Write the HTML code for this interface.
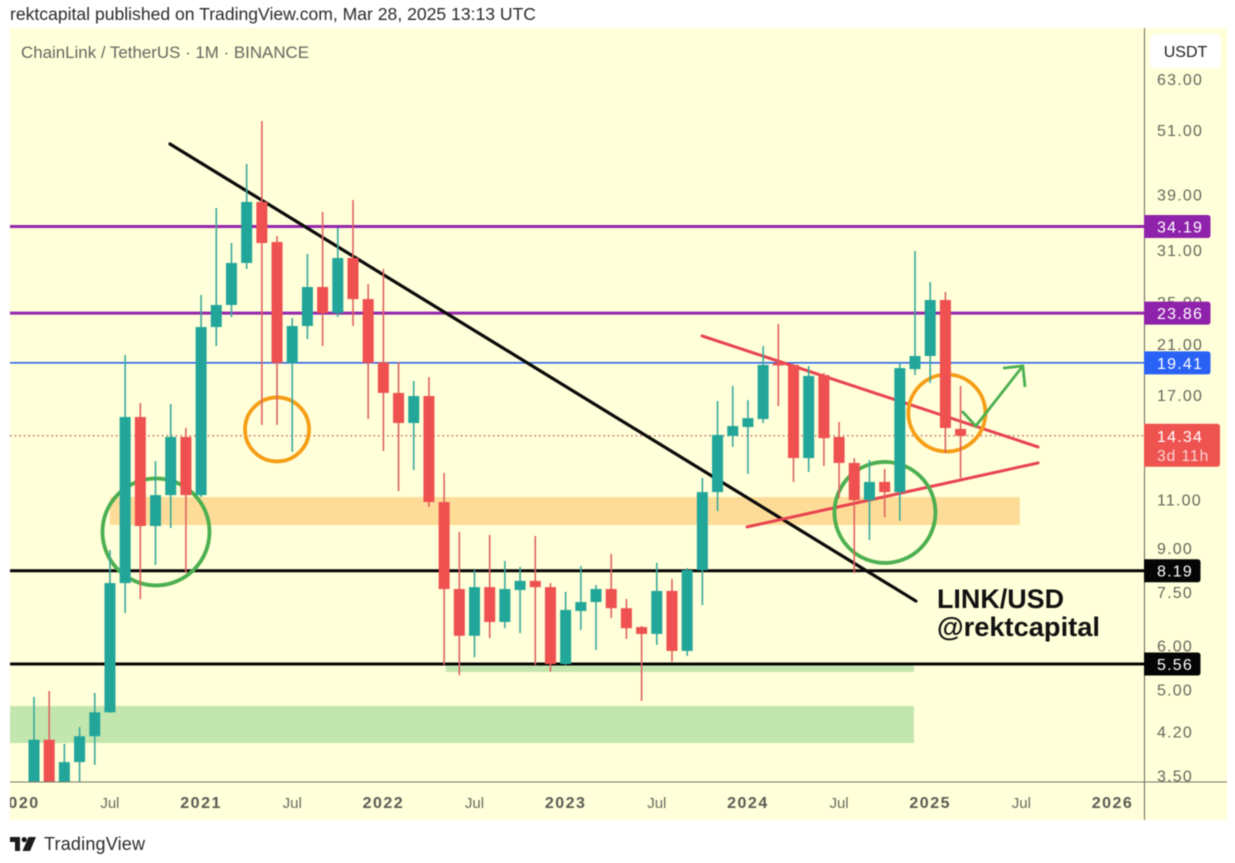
<!DOCTYPE html>
<html lang="en">
<head>
<meta charset="utf-8">
<title>LINK/USD chart</title>
<style>
html,body{margin:0;padding:0;background:#fff;width:1235px;height:863px;overflow:hidden}
svg{display:block;filter:blur(0.4px)}
text{font-family:"Liberation Sans",Arial,sans-serif}
</style>
</head>
<body>
<svg id="chart" xmlns="http://www.w3.org/2000/svg" width="1235" height="863" viewBox="0 0 1235 863">
  <defs>
    <clipPath id="plot-clip"><rect x="10" y="28" width="1134" height="754"></rect></clipPath>
    <clipPath id="time-clip"><rect x="10" y="782" width="1134" height="38"></rect></clipPath>
  </defs>
  <text x="10" y="20" font-size="17.4" fill="#2b2b2b" textLength="526" lengthAdjust="spacingAndGlyphs">rektcapital published on TradingView.com, Mar 28, 2025 13:13 UTC</text>
  <rect x="10" y="28" width="1217" height="792" fill="#ffffd9"></rect>
  <g id="zones" clip-path="url(#plot-clip)"></g>
  <g id="levels" clip-path="url(#plot-clip)"></g>
  <g id="drawings" clip-path="url(#plot-clip)"></g>
  <g id="candles" clip-path="url(#plot-clip)"></g>
  <text x="21" y="58" font-size="17" fill="#666660" textLength="288" lengthAdjust="spacingAndGlyphs">ChainLink / TetherUS · 1M · BINANCE</text>
  <text x="937" y="608" font-size="27" font-weight="700" fill="#111" textLength="127" lengthAdjust="spacingAndGlyphs">LINK/USD</text>
  <text x="937" y="636" font-size="27" font-weight="700" fill="#111" textLength="163" lengthAdjust="spacingAndGlyphs">@rektcapital</text>
  <line x1="10" y1="782" x2="1227" y2="782" stroke="#77776c" stroke-width="1"></line>
  <line x1="1144.5" y1="28" x2="1144.5" y2="820" stroke="#66665c" stroke-width="1"></line>
  <g id="time-ticks" clip-path="url(#time-clip)"></g>
  <g id="price-ticks"></g>
  <g id="price-tags"></g>
  <g>
    <rect x="1150" y="34" width="71" height="34" rx="5" fill="#ffffff"></rect>
    <text x="1185.5" y="57" font-size="16" fill="#222" text-anchor="middle">USDT</text>
  </g>
  <g>
    <path d="M10 837H20V851H15V842H10Z" fill="#1a1a1a"></path>
    <circle cx="24.2" cy="839.6" r="2.6" fill="#1a1a1a"></circle>
    <path d="M28.5 837H36L30 851H22.5Z" fill="#1a1a1a"></path>
    <text x="44" y="850" font-size="18" fill="#2b2b2b" textLength="101">TradingView</text>
  </g>
</svg>
<script>
// ---- data ----
const months = ['2020-02','2020-03','2020-04','2020-05','2020-06','2020-07','2020-08','2020-09','2020-10','2020-11','2020-12','2021-01','2021-02','2021-03','2021-04','2021-05','2021-06','2021-07','2021-08','2021-09','2021-10','2021-11','2021-12','2022-01','2022-02','2022-03','2022-04','2022-05','2022-06','2022-07','2022-08','2022-09','2022-10','2022-11','2022-12','2023-01','2023-02','2023-03','2023-04','2023-05','2023-06','2023-07','2023-08','2023-09','2023-10','2023-11','2023-12','2024-01','2024-02','2024-03','2024-04','2024-05','2024-06','2024-07','2024-08','2024-09','2024-10','2024-11','2024-12','2025-01','2025-02','2025-03'];
const opens  = [3.03,4.06,3.03,3.70,4.12,4.55,7.78,15.50,9.86,11.21,14.27,11.21,22.52,24.68,29.38,37.85,32.05,19.40,22.62,26.59,23.87,29.99,25.29,19.44,17.13,15.12,16.91,10.89,7.59,6.25,7.65,6.62,7.56,7.85,7.65,5.56,6.93,7.19,7.59,7.01,6.48,6.30,7.53,5.87,8.21,11.35,14.33,14.87,15.37,19.40,19.24,13.07,18.45,14.27,12.81,10.98,11.84,11.35,18.91,19.97,25.19,14.75];
const highs  = [4.85,4.97,3.99,4.28,4.93,8.92,20.05,16.43,12.91,16.36,14.81,25.72,36.91,31.92,44.31,52.97,32.86,23.38,30.50,36.31,33.97,38.16,26.93,28.65,19.48,18.00,18.30,12.29,9.62,8.21,9.50,8.53,8.32,9.46,7.78,7.50,8.35,7.72,8.78,7.28,6.51,8.46,7.91,8.28,12.03,16.57,17.63,16.63,20.81,22.81,19.32,19.16,18.61,15.18,13.07,12.97,12.49,19.40,30.88,27.15,26.05,17.63];
const lows   = [2.79,2.80,2.90,3.30,3.66,4.54,6.87,7.28,8.39,9.78,8.11,11.12,20.81,23.48,28.65,15.00,15.00,13.41,21.42,20.81,23.48,22.62,15.37,13.46,11.40,12.44,10.67,5.54,5.31,5.72,6.19,6.45,6.32,5.54,5.38,5.54,6.40,5.89,6.73,6.17,4.77,6.02,5.61,5.75,7.10,10.49,13.69,12.24,15.12,16.22,11.84,12.34,12.65,11.07,8.11,9.30,10.23,10.07,18.45,17.85,13.35,12.03];
const closes = [4.06,3.03,3.70,4.12,4.55,7.78,15.50,9.86,11.21,14.27,11.21,22.52,24.68,29.38,37.85,31.92,19.40,22.62,26.59,23.87,29.99,25.29,19.40,17.13,15.12,16.91,10.89,7.59,6.25,7.65,6.62,7.59,7.85,7.65,5.56,6.96,7.19,7.59,7.01,6.45,6.30,7.53,5.87,8.21,11.35,14.39,14.93,15.43,19.24,19.20,13.07,18.38,14.20,12.81,10.98,11.84,11.35,18.99,19.97,25.19,14.81,14.34];

const priceTicks = [63,51,39,31,25,21,17,11,9,7.5,6,5,4.2,3.5];
const yearTicks = ['2020-01','2021-01','2022-01','2023-01','2024-01','2025-01','2026-01'];
const midYearTicks = ['2020-07','2021-07','2022-07','2023-07','2024-07','2025-07'];

const purpleLevels = [34.19,23.86];
const blueLevels = [19.41];
const blackLevels = [8.19,5.56];
const lastPrice = 14.34;
const countdown = '3d 11h';

// zones: month-index start/end and price top/bottom
const zoneStarts = [5.0,27.12,-1.6];
const zoneEnds = [64.9,57.93,57.93];
const zoneTops = [11.12,5.56,4.67];
const zoneBottoms = [9.90,5.38,4.005];

// trend lines in month-index / price units
const fallingTrendMonths = [8.95,58.06];
const fallingTrendPrices = [48.15,7.22];
const wedgeUpperMonths = [43.98,66.1];
const wedgeUpperPrices = [21.70,13.69];
const wedgeLowerMonths = [46.94,66.1];
const wedgeLowerPrices = [9.82,12.81];
const greenCircleMonths = [8.03,56.02];
const greenCirclePrices = [9.62,10.43];
const orangeCircleMonths = [16.0,60.1];
const orangeCirclePrices = [14.72,15.76];
const arrowMonths = [61.09,62.0,65.1];
const arrowPrices = [15.89,14.93,19.16];
const arrowHeadMonths = [63.8,65.1,65.24];
const arrowHeadPrices = [18.99,19.16,17.56];

// ---- axis functions ----
const SVGNS = 'http://www.w3.org/2000/svg';
function monthIndex(key){
  const a = key.split('-');
  return (Number(a[0]) - 2020) * 12 + Number(a[1]) - 2;
}
function xAt(i){ return 34 + 15.19 * i; }
function yAt(p){ return 664 - 240.9 * Math.log(p / 5.56); }
function make(tag, attrs, parent, txt){
  const el = document.createElementNS(SVGNS, tag);
  for (const k in attrs) el.setAttribute(k, attrs[k]);
  if (txt !== undefined) el.textContent = txt;
  parent.appendChild(el);
  return el;
}
const zonesG = document.getElementById('zones');
const levelsG = document.getElementById('levels');
const drawG = document.getElementById('drawings');
const candlesG = document.getElementById('candles');
const timeG = document.getElementById('time-ticks');
const priceG = document.getElementById('price-ticks');
const tagsG = document.getElementById('price-tags');

// ---- zones ----
zoneStarts.forEach(function(s, i){
  const x1 = xAt(s), x2 = xAt(zoneEnds[i]), y1 = yAt(zoneTops[i]), y2 = yAt(zoneBottoms[i]);
  const el = make('rect', {x:x1, y:y1, width:x2-x1, height:y2-y1, fill: i === 0 ? '#fddc98' : '#c3e6ae'}, zonesG);
  
  
});

// ---- horizontal levels ----
function level(price, color, width, name){
  const el = make('line', {x1:10, x2:1144, y1:yAt(price), y2:yAt(price), stroke:color, 'stroke-width':width}, levelsG);
  
  
}
purpleLevels.forEach(function(p){ level(p, '#9525ac', 3, 'purple-level-line'); });
blueLevels.forEach(function(p){ level(p, '#2f66f0', 1.7, 'blue-level-line'); });
blackLevels.forEach(function(p){ level(p, '#050505', 3, 'black-level-line'); });
const lastLine = make('line', {x1:10, x2:1144, y1:yAt(lastPrice), y2:yAt(lastPrice), stroke:'#b8554f', 'stroke-width':1.2, 'stroke-dasharray':'1.6 3'}, levelsG);



// ---- drawings ----
function trend(ms, ps, color, width, name){
  const el = make('line', {x1:xAt(ms[0]), y1:yAt(ps[0]), x2:xAt(ms[1]), y2:yAt(ps[1]), stroke:color, 'stroke-width':width, 'stroke-linecap':'round'}, drawG);
  
  
}
trend(fallingTrendMonths, fallingTrendPrices, '#0a0a0a', 3.2, 'falling-trendline');
trend(wedgeUpperMonths, wedgeUpperPrices, '#e8434f', 3, 'wedge-upper-line');
trend(wedgeLowerMonths, wedgeLowerPrices, '#e8434f', 3, 'wedge-lower-line');

function circle(m, p, r, color, name){
  const el = make('circle', {cx:xAt(m), cy:yAt(p), r:r, fill:'none', stroke:color, 'stroke-width':3.8}, drawG);
  
  
}
greenCircleMonths.forEach(function(m, i){ circle(m, greenCirclePrices[i], i === 0 ? 53.5 : 50.5, '#4caf50', 'green-highlight-circle'); });
orangeCircleMonths.forEach(function(m, i){ circle(m, orangeCirclePrices[i], i === 0 ? 32 : 38.5, '#f59d16', 'orange-highlight-circle'); });

function poly(ms, ps, name){
  const pts = ms.map(function(m, i){ return xAt(m) + ',' + yAt(ps[i]); }).join(' ');
  const el = make('polyline', {points:pts, fill:'none', stroke:'#4caf50', 'stroke-width':2.8}, drawG);
  
  
}
poly(arrowMonths, arrowPrices, 'projection-arrow');
poly(arrowHeadMonths, arrowHeadPrices, 'projection-arrow-head');

// ---- candles ----
months.forEach(function(key, i){
  const cx = xAt(monthIndex(key));
  const up = closes[i] >= opens[i];
  const color = up ? '#22a69a' : '#ef5050';
  const g = make('g', {}, candlesG);
  
  
  const wick = make('line', {x1:cx, x2:cx, y1:yAt(highs[i]), y2:yAt(lows[i]), stroke: up ? '#3aa99d' : '#df6360', 'stroke-width':1.6}, g);
  
  
  const top = yAt(Math.max(opens[i], closes[i]));
  const bottom = yAt(Math.min(opens[i], closes[i]));
  const body = make('rect', {x:cx-5.5, y:top, width:11, height:Math.max(1, bottom-top), fill:color}, g);
  
  
});

// ---- time axis ----
yearTicks.forEach(function(key){
  const t = make('text', {x:xAt(monthIndex(key)), y:808, 'text-anchor':'middle', 'font-size':16, 'font-weight':700, 'letter-spacing':1.5, fill:'#5a5a54'}, timeG, key.slice(0,4));
  
  
});
midYearTicks.forEach(function(key){
  const t = make('text', {x:xAt(monthIndex(key)), y:808, 'text-anchor':'middle', 'font-size':15, fill:'#6a6a62'}, timeG, 'Jul');
  
  
});

// ---- price axis ----
priceTicks.forEach(function(p){
  const t = make('text', {x:1157, y:yAt(p)+6, 'font-size':16, 'letter-spacing':1.2, fill:'#66665e'}, priceG, p.toFixed(2));
  
  
});

// ---- price tags ----
function tag(price, width, color, name){
  const cy = yAt(price);
  const g = make('g', {}, tagsG);
  
  
  make('path', {d:'M1144 '+(cy-11.5)+'H'+(1144+width-3)+'q3 0 3 3V'+(cy+8.5)+'q0 3 -3 3H1144Z', fill:color}, g);
  make('text', {x:1157, y:cy+6, 'font-size':16, 'letter-spacing':1.2, fill:'#ffffff'}, g, price.toFixed(2));
}
purpleLevels.forEach(function(p){ tag(p, 66.5, '#8f22aa', 'purple-level-tag'); });
blueLevels.forEach(function(p){ tag(p, 66.5, '#2962f5', 'blue-level-tag'); });
blackLevels.forEach(function(p){ tag(p, 56.5, '#050505', 'black-level-tag'); });

const lastG = make('g', {}, tagsG);


const lastY = yAt(lastPrice);
make('path', {d:'M1144 '+(lastY-12)+'H1217q3 0 3 3V'+(lastY+28)+'q0 3 -3 3H1144Z', fill:'#ef5350'}, lastG);
make('text', {x:1157, y:lastY+6, 'font-size':16, 'letter-spacing':1.2, fill:'#ffffff'}, lastG, lastPrice.toFixed(2));
make('text', {x:1157, y:lastY+25, 'font-size':15.5, 'letter-spacing':1, fill:'#ffffff', 'fill-opacity':0.75}, lastG, countdown);
</script>
</body>
</html>
